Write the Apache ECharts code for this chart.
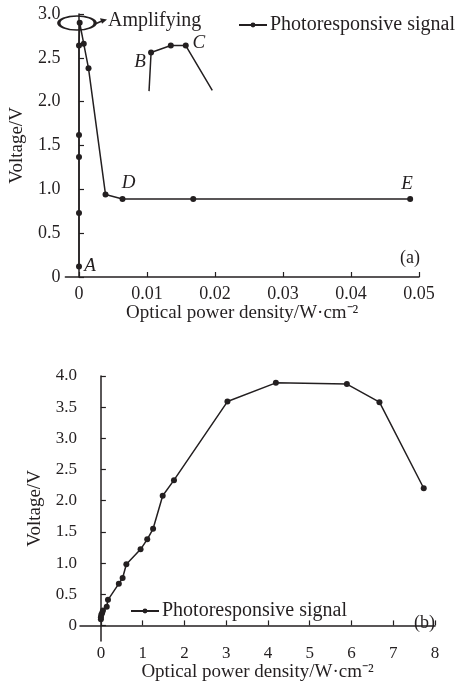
<!DOCTYPE html>
<html>
<head>
<meta charset="utf-8">
<script src="https://cdn.jsdelivr.net/npm/echarts@6/dist/echarts.min.js"></script>
<style>
html, body { margin: 0; padding: 0; background: #fff; }
#main { width: 461px; height: 689px; }
</style>
</head>
<body>
<div id="main"></div>
<script>
// (a) photoresponse vs optical power density, low range
const topX = [0, 0, 0, 0, 0, 0.0001, 0.0007, 0.0014, 0.0039, 0.0064, 0.0168, 0.0487];
const topY = [0.12, 0.73, 1.37, 1.62, 2.64, 2.90, 2.66, 2.38, 0.94, 0.89, 0.89, 0.89];
// magnified sketch of the peak (B..C)
const insetX = [0.0103, 0.0106, 0.0135, 0.0157, 0.0196];
const insetY = [2.12, 2.56, 2.64, 2.64, 2.13];
// (b) full range
const botX = [0, 0, 0.01, 0.03, 0.05, 0.14, 0.17, 0.43, 0.52, 0.61, 0.95, 1.11, 1.25, 1.48, 1.75, 3.03, 4.19, 5.89, 6.67, 7.73];
const botY = [0.10, 0.13, 0.17, 0.20, 0.24, 0.30, 0.41, 0.67, 0.76, 0.98, 1.22, 1.38, 1.55, 2.08, 2.33, 3.59, 3.89, 3.87, 3.58, 2.20];

const topXTicks = [0, 0.01, 0.02, 0.03, 0.04, 0.05];
const topYTicks = [0, 0.5, 1.0, 1.5, 2.0, 2.5, 3.0];
const botXTicks = [0, 1, 2, 3, 4, 5, 6, 7, 8];
const botYTicks = [0, 0.5, 1.0, 1.5, 2.0, 2.5, 3.0, 3.5, 4.0];

const seriesName = 'Photoresponsive signal';
// point letters by data index
const topMarks = { 0: 'A', 9: 'D', 11: 'E' };
const insetMarks = { 1: 'B', 3: 'C' };

const ink = '#231f20';
const font = '"Liberation Serif", "Times New Roman", serif';

let myChart = echarts.init(document.getElementById('main'));

const markOffset = { A: [11, 0], B: [-11, 9], C: [13, -3], D: [6, -16], E: [-3, -15] };

function pointData(xs, ys, marks, dotted) {
	return xs.map(function (x, i) {
		let item = { value: [x, ys[i]] };
		if (dotted && !dotted(i)) {
			item.symbol = 'none';
		}
		if (marks[i]) {
			item.label = {
				show: true,
				position: 'inside',
				formatter: marks[i],
				offset: markOffset[marks[i]],
				fontFamily: font,
				fontStyle: 'italic',
				fontSize: 19,
				color: ink
			};
		}
		return item;
	});
}

function axisBase(size) {
	return {
		axisLine: { lineStyle: { color: ink, width: 1.5 } },
		axisTick: { inside: true, length: 5, lineStyle: { color: ink, width: 1.2 } },
		splitLine: { show: false },
		nameTextStyle: { fontFamily: font, fontSize: 19, color: ink },
		axisLabel: { fontFamily: font, fontSize: size, color: ink }
	};
}

function fmt(digits) {
	return function (v) {
		return v === 0 ? '0' : v.toFixed(digits);
	};
}

let xTop = axisBase(18);
Object.assign(xTop, {
	gridIndex: 0, type: 'value', min: -0.002, max: 0.05,
	name: 'Optical power density/W·cm⁻²', nameLocation: 'middle', nameGap: 25
});
xTop.axisTick.customValues = topXTicks;
Object.assign(xTop.axisLabel, { customValues: topXTicks, formatter: fmt(2), margin: 8 });

let yTop = axisBase(18);
Object.assign(yTop, {
	gridIndex: 0, type: 'value', min: 0, max: 3,
	name: 'Voltage/V', nameLocation: 'middle', nameGap: 38
});
yTop.axisTick.customValues = topYTicks;
Object.assign(yTop.axisLabel, { customValues: topYTicks, formatter: fmt(1), margin: 5 });

let xBot = axisBase(17);
Object.assign(xBot, {
	gridIndex: 1, type: 'value', min: -0.5, max: 8,
	name: 'Optical power density/W·cm⁻²', nameLocation: 'middle', nameGap: 18
});
xBot.axisTick.customValues = botXTicks;
Object.assign(xBot.axisLabel, { customValues: botXTicks, formatter: fmt(0), margin: 4 });

let yBot = axisBase(17);
Object.assign(yBot, {
	gridIndex: 1, type: 'value', min: -0.25, max: 4,
	name: 'Voltage/V', nameLocation: 'middle', nameGap: 34
});
yBot.axisTick.customValues = botYTicks;
Object.assign(yBot.axisLabel, { customValues: botYTicks, formatter: fmt(1), margin: 3 });

let lineStyle = { color: ink, width: 1.5 };

let option = {
	backgroundColor: '#fff',
	animation: false,
	grid: [
		{ left: 63, top: 14, width: 356, height: 263 },
		{ left: 80, top: 376, width: 355, height: 265 }
	],
	xAxis: [xTop, xBot],
	yAxis: [yTop, yBot],
	legend: [{
		left: 233, top: 10,
		data: [seriesName],
		itemWidth: 28, itemHeight: 6, itemGap: 0,
		textStyle: { fontFamily: font, fontSize: 20, color: ink, padding: [0, 0, 0, -2] }
	}, {
		left: 125, top: 596,
		data: [seriesName],
		itemWidth: 28, itemHeight: 6, itemGap: 0,
		textStyle: { fontFamily: font, fontSize: 20, color: ink, padding: [0, 0, 0, -2] }
	}],
	series: [{
		name: seriesName,
		type: 'line',
		xAxisIndex: 0, yAxisIndex: 0,
		symbol: 'circle', symbolSize: 6,
		itemStyle: { color: ink },
		lineStyle: lineStyle,
		data: pointData(topX, topY, topMarks)
	}, {
		name: 'inset',
		type: 'line',
		xAxisIndex: 0, yAxisIndex: 0,
		symbol: 'circle', symbolSize: 6,
		itemStyle: { color: ink },
		lineStyle: lineStyle,
		data: pointData(insetX, insetY, insetMarks, function (i) { return i > 0 && i < insetX.length - 1; })
	}, {
		name: seriesName,
		type: 'line',
		xAxisIndex: 1, yAxisIndex: 1,
		symbol: 'circle', symbolSize: 6,
		itemStyle: { color: ink },
		lineStyle: lineStyle,
		data: pointData(botX, botY, {})
	}],
	graphic: [
		{
			type: 'circle', x: 77, y: 23, scaleX: 2.6,
			shape: { cx: 0, cy: 0, r: 7 },
			style: { fill: 'none', stroke: ink, lineWidth: 1.3, strokeNoScale: true }
		},
		{ type: 'line', shape: { x1: 95, y1: 24, x2: 102, y2: 21 }, style: { stroke: ink, lineWidth: 1.5 } },
		{ type: 'polygon', shape: { points: [[107, 19.5], [100, 18.3], [102, 23.8]] }, style: { fill: ink } },
		{
			type: 'text', x: 108, y: 21,
			style: { text: 'Amplifying', font: '20px ' + font, fill: ink, verticalAlign: 'middle' }
		},
		{
			type: 'text', x: 420, y: 258,
			style: { text: '(a)', font: '18px ' + font, fill: ink, align: 'right', verticalAlign: 'middle' }
		},
		{
			type: 'text', x: 435, y: 623,
			style: { text: '(b)', font: '18px ' + font, fill: ink, align: 'right', verticalAlign: 'middle' }
		}
	]
};

myChart.setOption(option);
</script>
</body>
</html>
